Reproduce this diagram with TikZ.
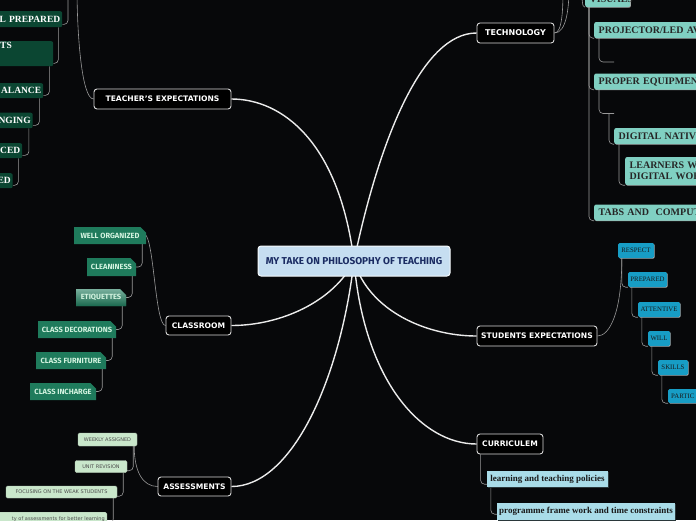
\documentclass[tikz,border=0pt]{standalone}
\usepackage{fontspec}
\setmainfont{Liberation Serif}
\setsansfont{DejaVu Sans}
\newfontfamily\firafont{Fira Sans}
\usepackage{tikz}
\usetikzlibrary{calc,shapes.misc,shadows}
\definecolor{bgdark}{HTML}{07080A}
\definecolor{hubfill}{HTML}{C6DEF1}
\definecolor{hubtext}{HTML}{1B2C63}
\definecolor{pine}{HTML}{0B4632}
\definecolor{aqua}{HTML}{80D0C2}
\definecolor{ocean}{HTML}{179DC5}
\definecolor{sky}{HTML}{A9DCE8}
\definecolor{mint}{HTML}{C9E7CB}
\definecolor{jade}{HTML}{1F7B5C}
\definecolor{jadetext}{HTML}{D3F3E0}
\pgfdeclarelayer{back}
\pgfdeclarelayer{links}
\pgfsetlayers{back,links,main}
\tikzstyle{hub}=[draw=white!85!hubfill, fill=hubfill, rounded corners=3pt, line width=1pt,% centre topic
text=hubtext, font=\firafont\bfseries\fontsize{10}{11}\selectfont, inner sep=0pt]
\tikzstyle{topic}=[draw=white!85!black, fill=black, rounded corners=3pt, line width=0.9pt,
text=white, font=\sffamily\bfseries\fontsize{7.6}{9}\selectfont, inner sep=0pt]
\tikzstyle{trunk}=[draw=white!92!black, line width=1.4pt]
\tikzstyle{twig}=[draw=gray!80!white, line width=0.6pt, rounded corners=4pt]
\tikzstyle{teachbox}=[fill=pine, rounded corners=2pt, text=white, font=\bfseries\fontsize{9.5}{10}\selectfont,
inner xsep=2pt, inner ysep=0pt, anchor=north west, align=right]
\tikzstyle{techbox}=[fill=aqua, rounded corners=2pt, text=black!85, font=\bfseries\fontsize{10}{11}\selectfont,
inner xsep=4.5pt, inner ysep=0pt, anchor=west, align=left, text width=120pt,
drop shadow={shadow xshift=0.7pt, shadow yshift=-0.7pt, fill=gray!70, opacity=1}]
\tikzstyle{stubox}=[fill=ocean, rounded corners=1.5pt, text=black!90, font=\fontsize{6.8}{7}\selectfont, inner sep=0pt,
drop shadow={shadow xshift=0.7pt, shadow yshift=-0.7pt, fill=gray!60, opacity=1}]
\tikzstyle{curbox}=[fill=sky, text=black!90, font=\bfseries\fontsize{9}{9}\selectfont, inner sep=0pt,
drop shadow={shadow xshift=1pt, shadow yshift=-1pt, fill=black!75!sky, opacity=1}]
\tikzstyle{asbox}=[fill=mint, draw=mint!70!gray, line width=0.4pt, rounded corners=1.5pt, text=black!70,
font=\sffamily\fontsize{5}{6}\selectfont, inner sep=0pt]
\tikzstyle{roombox}=[chamfered rectangle, chamfered rectangle corners=north east, chamfered rectangle xsep=3pt,
chamfered rectangle ysep=3pt, fill=jade, text=jadetext, font=\firafont\bfseries\fontsize{7.5}{8}\selectfont, inner sep=0pt]

\begin{document}
\begin{tikzpicture}[x=1pt,y=-1pt]
\useasboundingbox (0,0) rectangle (696,520);
\clip (0,0) rectangle (696,520);
\begin{pgfonlayer}{back}
\fill[bgdark] (0,0) rectangle (696,520);
\end{pgfonlayer}

\node[hub, minimum width=192pt, minimum height=30pt] (hub) at (354,261) {MY TAKE ON PHILOSOPHY OF TEACHING};

\node[topic, minimum width=137pt, minimum height=20pt] (teach) at (162.5,99) {TEACHER'S EXPECTATIONS};
\node[topic, minimum width=77pt, minimum height=20pt, font=\sffamily\bfseries\fontsize{8}{9}\selectfont] (tech) at (515.5,33) {TECHNOLOGY};
\node[topic, minimum width=65pt, minimum height=19pt] (room) at (198.5,325.5) {CLASSROOM};
\node[topic, minimum width=120pt, minimum height=20pt] (stud) at (537,336) {STUDENTS EXPECTATIONS};
\node[topic, minimum width=73pt, minimum height=19pt] (assess) at (194.5,486.5) {ASSESSMENTS};
\node[topic, minimum width=66pt, minimum height=20pt] (curr) at (510,444) {CURRICULEM};

% teacher's expectations, cut at the left edge
\node[teachbox, text width=78pt, minimum height=16pt] (tc1) at (-20,11) {L PREPARED};
\node[teachbox, text width=51pt, align=left, text height=7pt, text depth=18pt] (tc2) at (-2,41) {TS};
\node[teachbox, text width=59pt, minimum height=15pt] (tc3) at (-20,83) {ALANCE};
\node[teachbox, text width=48.5pt, minimum height=15.5pt] (tc4) at (-20,112.5) {NGING};
\node[teachbox, text width=38pt, minimum height=15pt] (tc5) at (-20,143) {CED};
\node[teachbox, text width=28.5pt, minimum height=15pt] (tc6) at (-20,173) {ED};
\coordinate (teachUp) at (77,-12);
\coordinate (teachTop) at (68,-12);

% technology
\node[techbox, text width=36pt, align=center, minimum height=16pt] (vis) at (585,-1) {VISUALS};
\node[techbox, minimum height=16pt] (proj) at (594,30) {PROJECTOR/LED AV};
\node[techbox, minimum height=16pt] (equip) at (594,81.5) {PROPER EQUIPMENT};
\node[techbox, minimum height=16pt] (native) at (614,136) {DIGITAL NATIVE};
\node[techbox, minimum height=28pt] (learn) at (625,171) {LEARNERS WI\\DIGITAL WOR};
\node[techbox, minimum height=16pt] (tabs) at (594,212.5) {TABS AND\ \ COMPUT};
\coordinate (projSub) at (614,62);
\coordinate (equipSub) at (614,113.5);
\coordinate (techUpA) at (563,-12);
\coordinate (techUpB) at (569,-12);
\coordinate (techUpC) at (582,-12);

% classroom
\node[roombox, minimum width=72pt, minimum height=17pt] (k1) at (110,235.5) {WELL ORGANIZED};
\node[roombox, minimum width=49pt, minimum height=18pt] (k2) at (111.5,267) {CLEANINESS};
\node[roombox, minimum width=50pt, minimum height=17pt, top color=jade!60!white, bottom color=jade!85!black] (k3) at (101,297.5) {ETIQUETTES};
\node[roombox, minimum width=78pt, minimum height=17pt] (k4) at (77,329.5) {CLASS DECORATIONS};
\node[roombox, minimum width=70pt, minimum height=17pt] (k5) at (71,360.5) {CLASS FURNITURE};
\node[roombox, minimum width=66pt, minimum height=17pt] (k6) at (63,391.5) {CLASS INCHARGE};

% students expectations
\node[stubox, minimum width=36pt, minimum height=15pt] (s1) at (636,250.5) {RESPECT};
\node[stubox, minimum width=39pt, minimum height=15pt] (s2) at (647.5,279.5) {PREPARED};
\node[stubox, minimum width=42pt, minimum height=15pt] (s3) at (659,309.5) {ATTENTIVE};
\node[stubox, minimum width=22pt, minimum height=15pt] (s4) at (659,338.5) {WILL};
\node[stubox, minimum width=30pt, minimum height=15pt] (s5) at (673,367.5) {SKILLS};
\node[stubox, anchor=west, text width=34pt, align=left, inner xsep=3pt, minimum height=14pt] (s6) at (668,396) {PARTIC};

% curriculum
\node[curbox, minimum width=121pt, minimum height=16pt] (cu1) at (547.5,479) {learning and teaching policies};
\node[curbox, minimum width=178pt, minimum height=17pt] (cu2) at (586,511.5) {programme frame work and time constraints};

% assessments
\node[asbox, minimum width=59pt, minimum height=13pt] (as1) at (107.5,439.5) {WEEKLY ASSIGNED};
\node[asbox, minimum width=52pt, minimum height=12pt] (as2) at (101,466.5) {UNIT REVISION};
\node[asbox, minimum width=111pt, minimum height=12pt] (as3) at (61.5,492) {FOCUSING ON THE WEAK STUDENTS};
\node[asbox, anchor=north east, text width=108pt, align=right, inner xsep=2pt, minimum height=13pt] (as4) at (107,512) {ty of assessments for better learning};

\begin{pgfonlayer}{links}
\draw[trunk] (hub.center) .. controls +(25,-120) and +(-55,0) .. (tech.west);
\draw[trunk] (hub.center) .. controls +(-15,-120) and +(50,0) .. (teach.east);
\draw[trunk] (hub.center) .. controls +(-20,40) and +(50,0) .. (room.east);
\draw[trunk] (hub.center) .. controls +(-14,120) and +(60,0) .. (assess.east);
\draw[trunk] (hub.center) .. controls +(15,50) and +(-50,0) .. (stud.west);
\draw[trunk] (hub.center) .. controls +(10,120) and +(-55,0) .. (curr.west);

\draw[twig] (teach.west) .. controls +(-12,0) and +(0,45) .. (teachUp);
\draw[twig] (teachTop) |- ($(tc1.south east)+(0,-3)$);
\draw[twig] ($(tc1.south east)+(-4,0)$) |- ($(tc2.south east)+(0,-3)$);
\draw[twig] ($(tc2.south east)+(-4,0)$) |- ($(tc3.south east)+(0,-3)$);
\draw[twig] ($(tc3.south east)+(-4,0)$) |- ($(tc4.south east)+(0,-3)$);
\draw[twig] ($(tc4.south east)+(-4,0)$) |- ($(tc5.south east)+(0,-3)$);
\draw[twig] ($(tc5.south east)+(-4,0)$) |- ($(tc6.south east)+(0,-3)$);

\draw[twig] (tech.east) .. controls +(8,0) and +(0,20) .. (techUpA);
\draw[twig] (tech.east) .. controls +(12,0) and +(0,20) .. (techUpB);
\draw[twig] (techUpC) .. controls +(0,12) and +(-3,0) .. (vis.south west);
\draw[twig] ($(vis.south west)+(4,0)$) |- (proj.south west);
\draw[twig] ($(vis.south west)+(4,0)$) |- (equip.south west);
\draw[twig] ($(vis.south west)+(4,0)$) |- (tabs.south west);
\draw[twig] ($(proj.south west)+(5,0)$) |- (projSub);
\draw[twig] ($(equip.south west)+(5,0)$) |- (equipSub);
\draw[twig] ($(equipSub)+(-5,0)$) |- (native.south west);
\draw[twig] ($(native.south west)+(5,0)$) |- (learn.south west);

\draw[twig] (room.west) .. controls +(-10,0) and +(8,12) .. (k1.east);
\draw[twig] ($(k1.south east)+(-4,0)$) |- (k2.east);
\draw[twig] ($(k2.south east)+(-4,0)$) |- (k3.east);
\draw[twig] ($(k3.south east)+(-4,0)$) |- (k4.east);
\draw[twig] ($(k4.south east)+(-4,0)$) |- (k5.east);
\draw[twig] ($(k5.south east)+(-4,0)$) |- (k6.east);

\draw[twig] (stud.east) .. controls +(12,0) and +(0,55) .. ($(s1.south west)+(4,0)$);
\draw[twig] ($(s1.south west)+(4,0)$) |- (s2.south west);
\draw[twig] ($(s2.south west)+(4,0)$) |- (s3.south west);
\draw[twig] ($(s3.south west)+(4,0)$) |- (s4.south west);
\draw[twig] ($(s4.south west)+(4,0)$) |- (s5.south west);
\draw[twig] ($(s5.south west)+(4,0)$) |- (s6.south west);

\draw[twig] ($(curr.south west)+(4,0)$) |- ($(cu1.south west)+(0,-3)$);
\draw[twig] ($(cu1.south west)+(4,0)$) |- ($(cu2.south west)+(0,-6)$);

\draw[twig] (assess.west) .. controls +(-15,0) and +(0,25) .. ($(as1.south east)+(-3,0)$);
\draw[twig] ($(as1.south east)+(-4,0)$) |- ($(as2.south east)+(0,-2)$);
\draw[twig] ($(as2.south east)+(-4,0)$) |- ($(as3.south east)+(0,-2)$);
\draw[twig] ($(as3.south east)+(-4,0)$) |- ($(as4.south east)+(0,-2)$);
\end{pgfonlayer}
\end{tikzpicture}
\end{document}
